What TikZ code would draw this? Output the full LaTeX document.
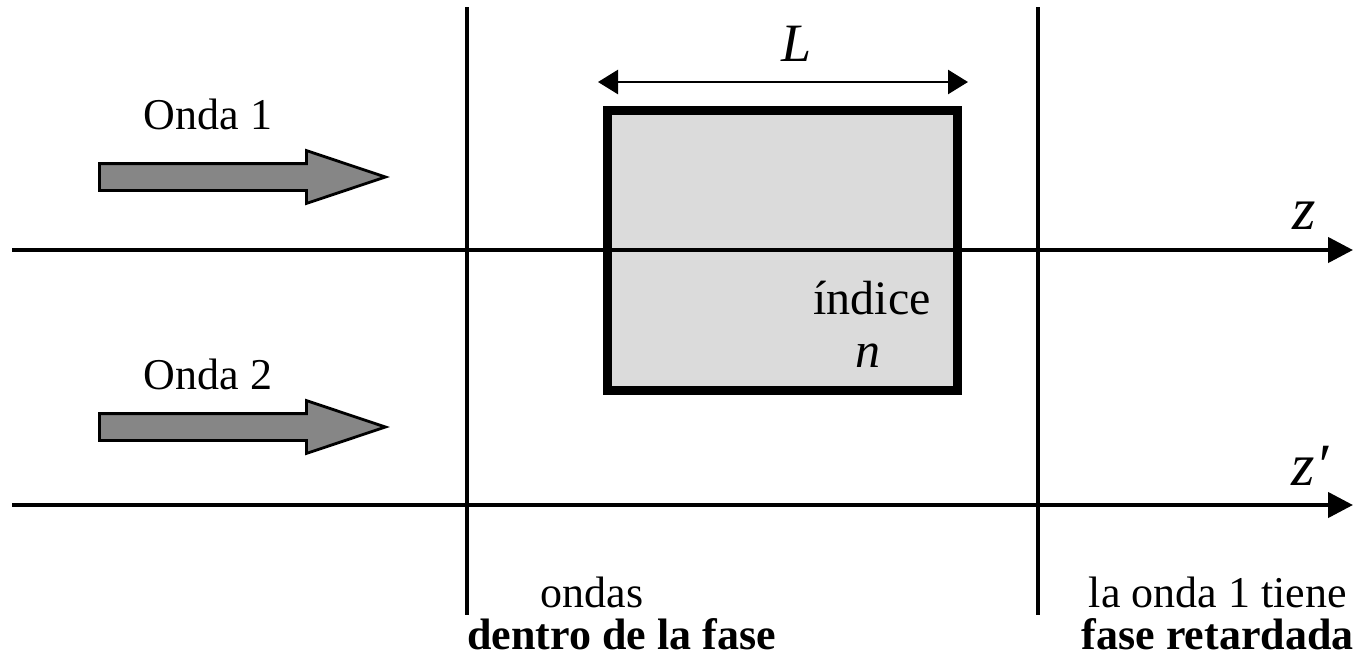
\documentclass[tikz,border=0pt]{standalone}
\usepackage{fontspec}
\setmainfont{Liberation Serif}
\usepackage{tikz}
\usetikzlibrary{arrows.meta, shapes.arrows}

\tikzset{
  axis/.style={line width=2.2pt, -{Triangle[length=12.5pt,width=12.5pt]}},
  wall/.style={line width=2.2pt},
  wave/.style={single arrow, draw, fill=gray!95!white, line width=1.4pt,
    inner xsep=0pt, inner ysep=6pt, minimum height=143pt,
    single arrow head extend=6.5pt, single arrow tip angle=37, anchor=west},
  txt/.style={font=\fontsize{22}{26}\selectfont, inner sep=0pt},
  bold/.style={font=\fontsize{22}{26}\selectfont\bfseries, inner sep=0pt}
}

\begin{document}
\begin{tikzpicture}[x=0.5pt, y=-0.5pt]
  \useasboundingbox (0,0) rectangle (1355,660);

  % the slab
  \node[draw, fill=black!14, line width=4.5pt, minimum width=175pt,
        minimum height=140pt, inner sep=0pt] (slab) at (782,250) {};
  \node[font=\fontsize{24}{28}\selectfont, inner sep=0pt] (index) at (872,298) {índice};
  \node[font=\fontsize{25}{28}\selectfont\itshape, inner sep=0pt] (n) at (868,356) {n};

  % length L
  \coordinate (l1) at (598,82);
  \coordinate (l2) at (968,82);
  \draw[line width=1.3pt, {Triangle[length=10pt,width=12pt]}-{Triangle[length=10pt,width=12pt]}] (l1) -- (l2);
  \node[font=\fontsize{27}{30}\selectfont\itshape, inner sep=0pt] (L) at (797,44) {L};

  % phase planes
  \draw[wall] (467,7) -- (467,615);
  \draw[wall] (1038,7) -- (1038,615);

  % axes
  \coordinate (z0) at (12,250);
  \coordinate (z1) at (1353,250);
  \coordinate (w0) at (12,505);
  \coordinate (w1) at (1353,505);
  \draw[axis] (z0) -- (z1);
  \draw[axis] (w0) -- (w1);
  \node[font=\fontsize{30}{32}\selectfont\itshape, inner sep=0pt] (z) at (1304,216) {z};
  \node[font=\fontsize{30}{32}\selectfont\itshape, inner sep=0pt] (zp) at (1310,466) {z′};

  % incoming waves
  \node[wave] (w1a) at (98,177) {};
  \node[wave] (w2a) at (98,427) {};
  \node[txt] (onda1) at (208,114) {Onda 1};
  \node[txt] (onda2) at (208,374) {Onda 2};

  % captions
  \node[txt] (inph) at (592,592) {ondas};
  \node[bold, anchor=west] (inphb) at (467,634) {dentro de la fase};
  \node[txt, anchor=east] (ret) at (1347,592) {la onda 1 tiene};
  \node[bold, anchor=east] (retb) at (1354,634) {fase retardada};
\end{tikzpicture}
\end{document}
